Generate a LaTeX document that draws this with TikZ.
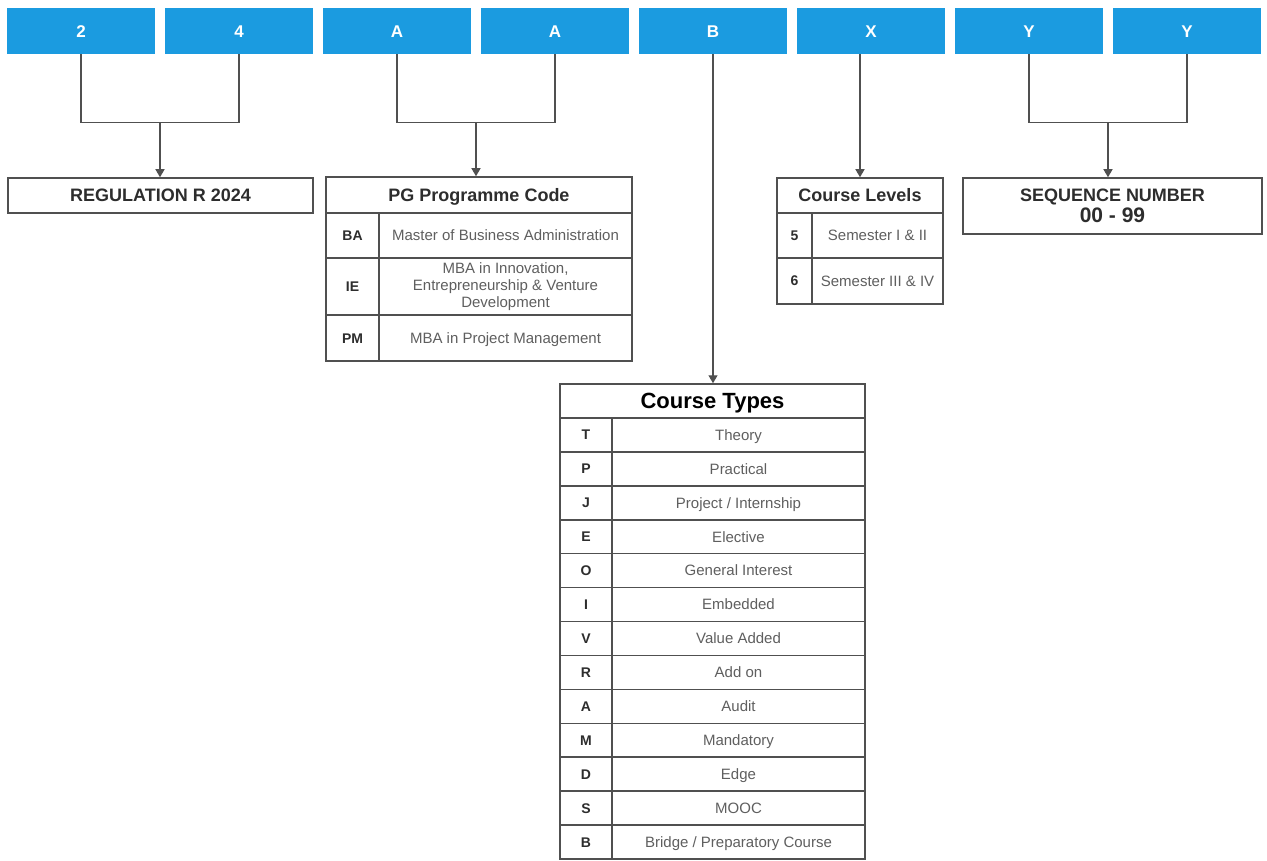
\documentclass[tikz,border=0pt]{standalone}
\usepackage{fontspec}
\setmainfont{Liberation Sans}
\usepackage{tikz}
\usetikzlibrary{arrows.meta,positioning,calc}
\definecolor{CodeBlue}{RGB}{27,155,224}
\definecolor{FrameGray}{RGB}{80,80,80}
\definecolor{InkGray}{RGB}{45,45,45}
\definecolor{SoftInk}{RGB}{95,95,95}
\tikzset{
  digit/.style={fill=CodeBlue, draw=none, text=white, font=\fontsize{17}{20}\selectfont\bfseries, minimum width=148pt, minimum height=46pt, inner sep=0pt, text height=12.2pt, text depth=0pt},
  cellbox/.style={draw=FrameGray, line width=1.5pt, fill=white, inner sep=0pt},
  headcell/.style={cellbox, font=\fontsize{18}{20}\selectfont\bfseries, text=InkGray, text height=12.9pt, text depth=0pt},
  keycell/.style={cellbox, font=\fontsize{14}{16}\selectfont\bfseries, text=InkGray, text height=10pt, text depth=0pt},
  desccell/.style={cellbox, font=\fontsize{15}{16.7}\selectfont, text=SoftInk, align=center, text height=10.7pt, text depth=0pt},
  link/.style={draw=FrameGray, line width=1.3pt},
  arrowlink/.style={link, -{Triangle[width=9pt,length=8pt]}},
}
\begin{document}
\begin{tikzpicture}[x=1pt,y=-1pt]
  \useasboundingbox (0,0) rectangle (1267,861);

  % Code characters
  \foreach \i/\v in {0/2,1/4,2/A,3/A,4/B,5/X,6/Y,7/Y}{
    \node[digit] (d\i) at ({81+158*\i},31) {\v};
  }

  % Regulation
  \node[headcell, minimum width=305pt, minimum height=35pt] (reg) at (160.5,195.5) {REGULATION R 2024};

  % PG programme code table
  \node[headcell, minimum width=306pt, minimum height=36pt] (pg) at (479,195) {PG Programme Code};
  \foreach \k/\t/\y/\h [count=\n] in {BA/{Master of Business Administration}/235.5/45,
      IE/{}/286.5/57, PM/{MBA in Project Management}/338/46}{
    \node[keycell, minimum width=53pt, minimum height=\h pt] (pgk\n) at (352.5,\y) {\k};
    \node[desccell, minimum width=253pt, minimum height=\h pt] (pgd\n) at (505.5,\y) {\t};
  }
  \node[desccell, text height={}, text depth={}, fill=none, draw=none] (pgie) at (pgd2.center)
    {MBA in Innovation,\\Entrepreneurship \& Venture\\Development};

  % Course levels table
  \node[headcell, minimum width=166pt, minimum height=35pt] (lev) at (860,195.5) {Course Levels};
  \foreach \k/\t/\y/\h [count=\n] in {5/{Semester I \& II}/235.5/45, 6/{Semester III \& IV}/281/46}{
    \node[keycell, minimum width=35pt, minimum height=\h pt] (levk\n) at (794.5,\y) {\k};
    \node[desccell, minimum width=131pt, minimum height=\h pt] (levd\n) at (877.5,\y) {\t};
  }

  % Sequence number
  \node[headcell, text height={}, text depth={}, minimum width=299pt, minimum height=56pt, align=center] (seq) at (1112.5,206)
    {SEQUENCE NUMBER\\[1pt]{\fontsize{21}{22}\selectfont 00 - 99}};

  % Course types table
  \node[headcell, minimum width=305pt, minimum height=34pt, font=\fontsize{22}{24}\selectfont\bfseries, text=black, text height=15.8pt] (types) at (712.5,401) {Course Types};
  \foreach \k/\t [count=\n] in {T/Theory, P/Practical, J/{Project / Internship}, E/Elective,
      O/{General Interest}, I/Embedded, V/{Value Added}, R/{Add on}, A/Audit, M/Mandatory,
      D/Edge, S/MOOC, B/{Bridge / Preparatory Course}}{
    \node[keycell, minimum width=52pt, minimum height=33.92pt] (tk\n) at (586,{418+33.92*(\n-0.5)}) {\k};
    \node[desccell, minimum width=253pt, minimum height=33.92pt] (td\n) at (738.5,{418+33.92*(\n-0.5)}) {\t};
  }

  % Connectors
  \coordinate (j24) at ($(d0.south)!0.5!(d1.south)+(0,68)$);
  \draw[link] (d0.south) |- (j24) -| (d1.south);
  \draw[arrowlink] (j24) -- (j24 |- reg.north);

  \coordinate (jaa) at ($(d2.south)!0.5!(d3.south)+(0,68)$);
  \draw[link] (d2.south) |- (jaa) -| (d3.south);
  \draw[arrowlink] (jaa) -- (jaa |- pg.north);

  \draw[arrowlink] (d4.south) -- (d4.south |- types.north);

  \draw[arrowlink] (lev.north |- d5.south) -- (lev.north);

  \coordinate (jyy) at ($(d6.south)!0.5!(d7.south)+(0,68)$);
  \draw[link] (d6.south) |- (jyy) -| (d7.south);
  \draw[arrowlink] (jyy) -- (jyy |- seq.north);
\end{tikzpicture}
\end{document}
